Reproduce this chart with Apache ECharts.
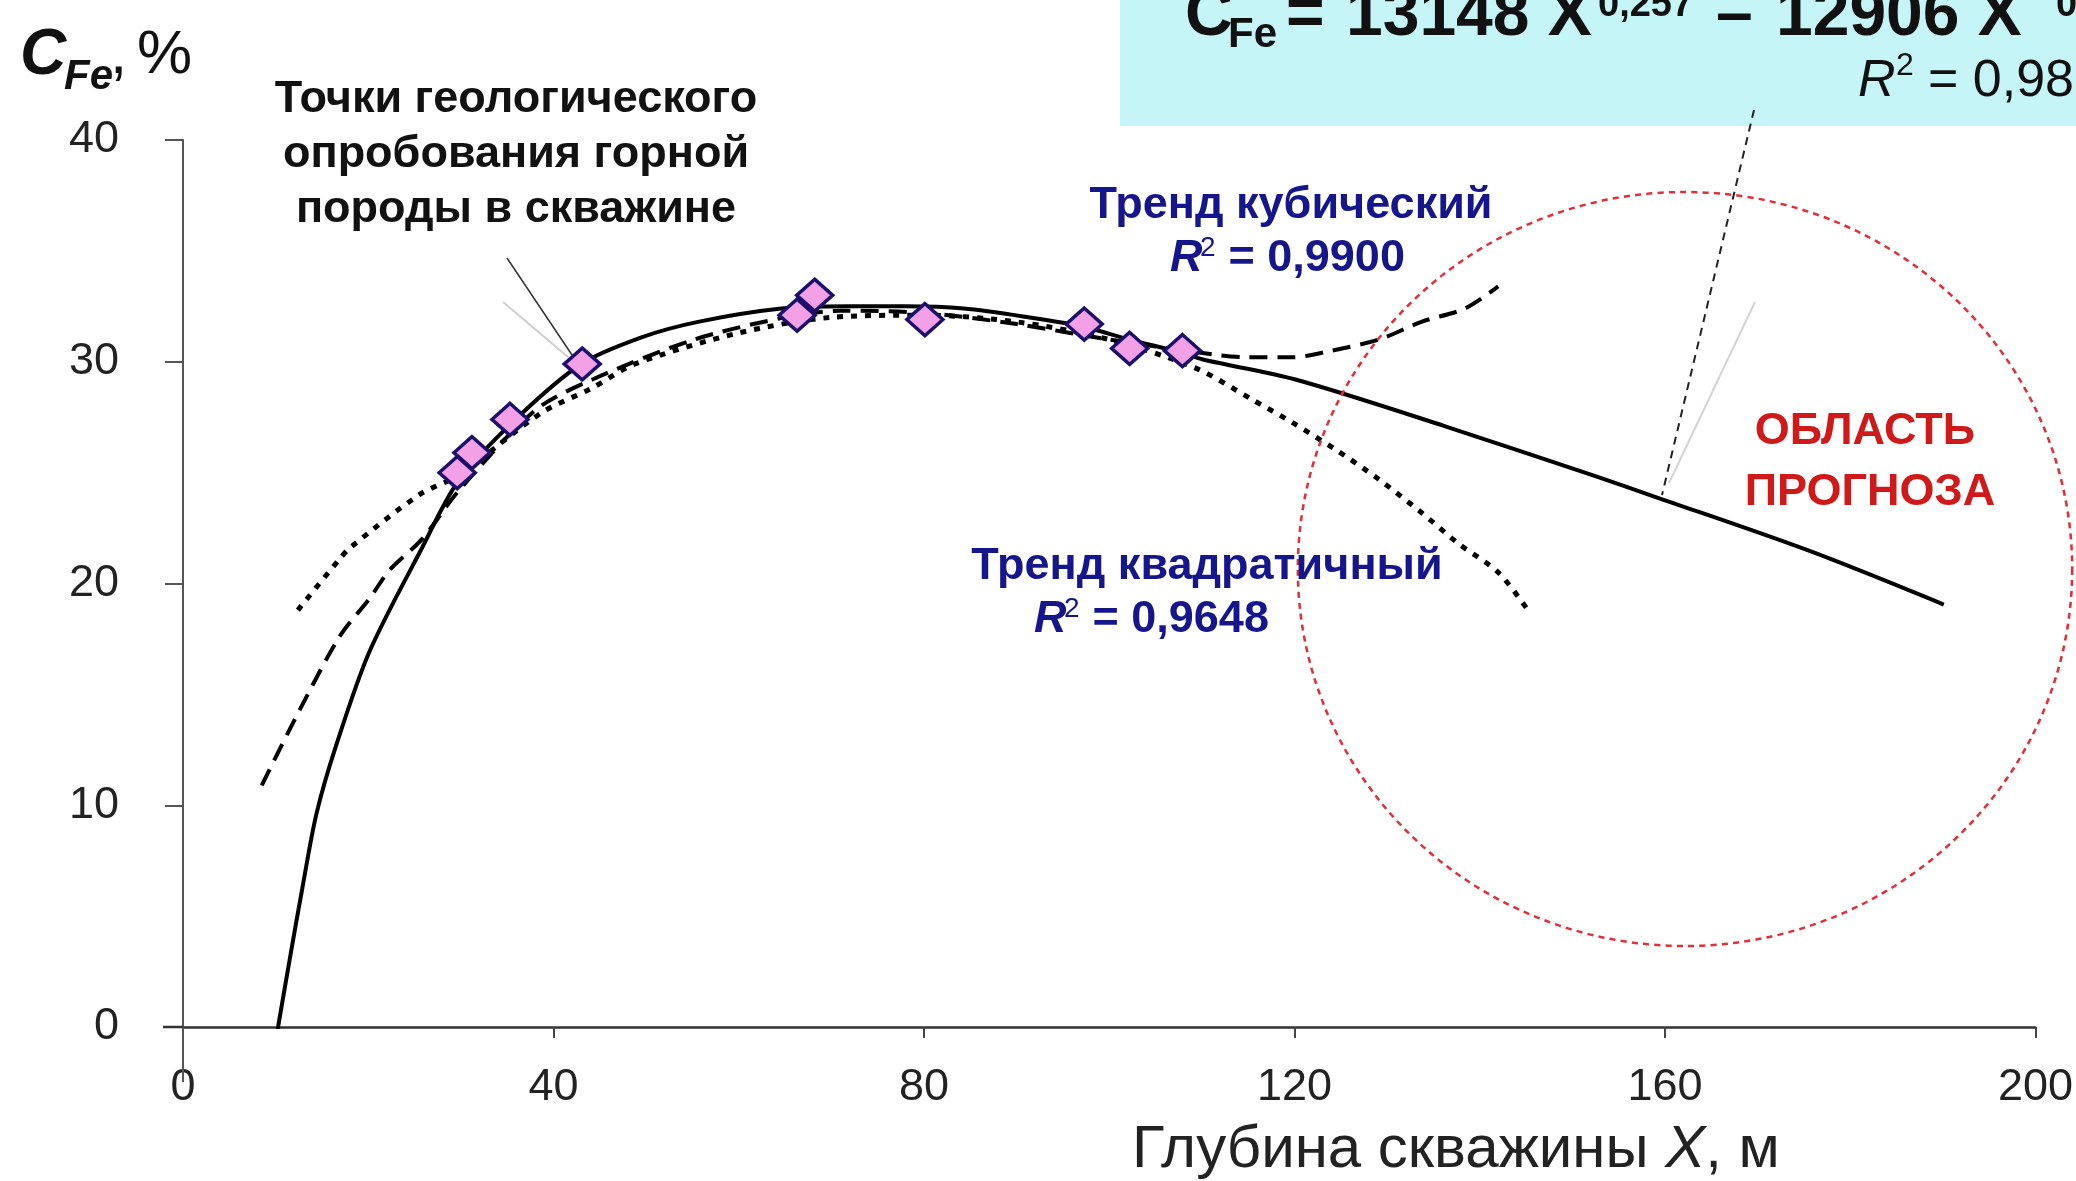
<!DOCTYPE html>
<html>
<head>
<meta charset="utf-8">
<script src="https://cdn.jsdelivr.net/npm/echarts@6/dist/echarts.min.js"></script>
<style>
html, body { margin: 0; padding: 0; background: #fff; }
#main { width: 2076px; height: 1181px; }
</style>
</head>
<body>
<div id="main"></div>
<script>
// точки опробования (глубина, содержание Fe)
var sampleX = [29.6, 31.2, 35.3, 43.1, 66.3, 68.2, 80.1, 97.3, 102.2, 107.9];
var sampleY = [25.0, 25.9, 27.4, 29.9, 32.1, 33.0, 31.9, 31.7, 30.6, 30.5];

// степенной тренд (сплошная линия, уходит в область прогноза)
var powerX = [10.1, 11.5, 12.9, 14.4, 16.5, 20.1, 25.8, 29.7, 35.9, 43.0, 49.5, 55.6, 64.6, 71.7, 78.0, 84.3, 91.4, 97.0, 102.2, 107.9, 110.1, 120.1, 136.2, 152.4, 159.0, 175.4, 190.1];
var powerY = [-0.4, 3.0, 6.3, 9.6, 12.65, 16.9, 21.6, 24.6, 27.4, 29.9, 31.1, 31.8, 32.4, 32.5, 32.5, 32.4, 32.0, 31.6, 31.0, 30.4, 30.1, 29.2, 27.1, 24.85, 23.9, 21.5, 19.05];

// кубический тренд
var cubicX = [8.5, 12.6, 16.9, 20.1, 22.3, 25.8, 29.8, 38.0, 44.2, 55.2, 65.0, 71.0, 80.0, 90.0, 100.0, 111.8, 115.0, 119.8, 124.0, 129.1, 133.7, 138.4, 142.0];
var cubicY = [10.9, 14.3, 17.6, 19.3, 20.6, 22.0, 24.2, 27.8, 29.2, 31.0, 32.0, 32.3, 32.2, 31.7, 31.0, 30.3, 30.2, 30.2, 30.5, 31.0, 31.8, 32.4, 33.4];

// квадратичный тренд
var quadX = [12.4, 16.9, 18.0, 25.5, 29.8, 38.7, 44.1, 48.8, 60.0, 70.0, 80.0, 90.0, 100.0, 109.4, 115.4, 119.8, 124.4, 129.1, 133.7, 137.7, 142.0, 145.2];
var quadY = [18.8, 21.1, 21.6, 24.0, 24.9, 27.7, 28.8, 29.9, 31.3, 32.0, 32.1, 31.8, 31.0, 29.7, 28.3, 27.25, 26.05, 24.7, 23.2, 21.8, 20.5, 18.8];

var xMin = 0, xMax = 200, xStep = 40;
var yMin = 0, yMax = 40, yStep = 10;

function pairs(xs, ys) {
	return xs.map(function(x, i) {
		return [x, ys[i]];
	});
}

var FONT = 'Liberation Sans, Arial, sans-serif';
var BLUE = '#16168c';
var RED = '#d01a1a';

function txt(x, y, text, size, opts) {
	opts = opts || {};
	return {
		type: 'text',
		x: x,
		y: y,
		z: 100,
		style: {
			text: text,
			fontFamily: FONT,
			fontSize: size,
			fontWeight: opts.bold ? 'bold' : 'normal',
			fontStyle: opts.italic ? 'italic' : 'normal',
			fill: opts.color || '#111',
			align: opts.align || 'left',
			verticalAlign: 'middle',
			lineHeight: opts.lineHeight
		}
	};
}

var myChart = echarts.init(document.getElementById('main'));

var option = {
	animation: false,
	backgroundColor: '#fff',
	grid: { left: 183, right: 33, top: 140, bottom: 154 },
	xAxis: {
		type: 'value',
		min: xMin,
		max: xMax,
		interval: xStep,
		splitLine: { show: false },
		axisLine: { onZero: false, lineStyle: { color: '#333', width: 2.5 } },
		axisTick: { length: 11, lineStyle: { color: '#444', width: 2 } },
		axisLabel: { margin: 38, fontFamily: FONT, fontSize: 45, color: '#222' }
	},
	yAxis: {
		type: 'value',
		min: yMin,
		max: yMax,
		interval: yStep,
		splitLine: { show: false },
		axisLine: { lineStyle: { color: '#555', width: 2 } },
		axisTick: { length: 18, lineStyle: { color: '#555', width: 2 } },
		axisLabel: { margin: 64, fontFamily: FONT, fontSize: 45, color: '#222' }
	},
	series: [{
		name: 'квадратичный',
		type: 'line',
		data: pairs(quadX, quadY),
		showSymbol: false,
		smooth: 0.3,
		lineStyle: { color: '#000', width: 5, type: [6, 8] },
		z: 2
	}, {
		name: 'кубический',
		type: 'line',
		data: pairs(cubicX, cubicY),
		showSymbol: false,
		smooth: 0.3,
		lineStyle: { color: '#000', width: 4, type: [18, 10] },
		z: 3
	}, {
		name: 'степенной',
		type: 'line',
		data: pairs(powerX, powerY),
		showSymbol: false,
		smooth: 0.3,
		lineStyle: { color: '#000', width: 4 },
		z: 4
	}, {
		name: 'опробование',
		type: 'scatter',
		data: pairs(sampleX, sampleY),
		symbol: 'diamond',
		symbolSize: [36, 32],
		itemStyle: { color: '#f3a0e6', borderColor: '#1c0f6b', borderWidth: 3.5, opacity: 1 },
		z: 6
	}],
	graphic: [
		// голубая плашка с формулой
		{ type: 'rect', z: 50, shape: { x: 1120, y: -10, width: 970, height: 136 }, style: { fill: '#c6f5f8' } },
		txt(1185, 17, 'C', 66, { bold: true }),
		txt(1228, 35, 'Fe', 42, { bold: true }),
		txt(1286, 17, '=', 66, { bold: true }),
		txt(1346, 17, '13148 X', 66, { bold: true }),
		txt(1598, 6, '0,257', 38, { bold: true }),
		txt(1716, 17, '–', 66, { bold: true }),
		txt(1776, 17, '12906 X', 66, { bold: true }),
		txt(2056, 6, '0,2', 38, { bold: true }),
		txt(1858, 82, 'R', 52, { italic: true }),
		txt(1896, 66, '2', 32),
		txt(1928, 82, '= 0,98', 52),

		// подпись оси Y
		txt(20, 56, 'C', 64, { bold: true, italic: true }),
		txt(64, 77, 'Fe', 42, { bold: true, italic: true }),
		txt(110, 56, ',', 62),
		txt(137, 56, '%', 62),

		// подпись оси X
		{
			type: 'text', x: 1132, y: 1150, z: 100,
			style: {
				text: '{a|Глубина скважины }{b|X}{a|, м}',
				verticalAlign: 'middle',
				rich: {
					a: { fontFamily: FONT, fontSize: 60, fill: '#222' },
					b: { fontFamily: FONT, fontSize: 60, fontStyle: 'italic', fill: '#222' }
				}
			}
		},

		// выноска к точкам
		txt(516, 155, 'Точки геологического\nопробования горной\nпороды в скважине', 45, { bold: true, align: 'center', lineHeight: 55 }),
		{ type: 'line', z: 40, shape: { x1: 503, y1: 302, x2: 568, y2: 357 }, style: { stroke: '#cfcfcf', lineWidth: 2 } },
		{ type: 'line', z: 40, shape: { x1: 507, y1: 258, x2: 572, y2: 355 }, style: { stroke: '#333', lineWidth: 1.5 } },

		// подписи трендов
		txt(1291, 206, 'Тренд кубический', 45, { bold: true, color: BLUE, align: 'center' }),
		txt(1170, 259, 'R', 45, { bold: true, italic: true, color: BLUE }),
		txt(1200, 248, '2', 28, { color: BLUE }),
		txt(1216, 259, ' = 0,9900', 45, { bold: true, color: BLUE }),
		txt(1207, 567, 'Тренд квадратичный', 45, { bold: true, color: BLUE, align: 'center' }),
		txt(1034, 620, 'R', 45, { bold: true, italic: true, color: BLUE }),
		txt(1064, 609, '2', 28, { color: BLUE }),
		txt(1080, 620, ' = 0,9648', 45, { bold: true, color: BLUE }),

		// область прогноза
		{ type: 'circle', z: 30, x: 1685, y: 569, scaleX: 1.027, shape: { cx: 0, cy: 0, r: 377 }, style: { fill: null, stroke: '#e0303a', lineWidth: 2.5, lineDash: [6, 5] } },
		txt(1865, 432, 'ОБЛАСТЬ', 45, { bold: true, color: RED, align: 'center' }),
		txt(1870, 493, 'ПРОГНОЗА', 45, { bold: true, color: RED, align: 'center' }),

		// выноска от формулы
		{ type: 'line', z: 60, shape: { x1: 1755, y1: 302, x2: 1669, y2: 483 }, style: { stroke: '#d4d4d4', lineWidth: 2 } },
		{ type: 'line', z: 60, shape: { x1: 1754, y1: 110, x2: 1662, y2: 495 }, style: { stroke: '#222', lineWidth: 2, lineDash: [8, 6] } },

		// продолжения осей за начало координат
		{ type: 'line', z: 40, shape: { x1: 183, y1: 1027, x2: 183, y2: 1082 }, style: { stroke: '#555', lineWidth: 2 } },
		{ type: 'line', z: 40, shape: { x1: 163, y1: 1027, x2: 183, y2: 1027 }, style: { stroke: '#333', lineWidth: 2.5 } }
	]
};

myChart.setOption(option);
</script>
</body>
</html>
